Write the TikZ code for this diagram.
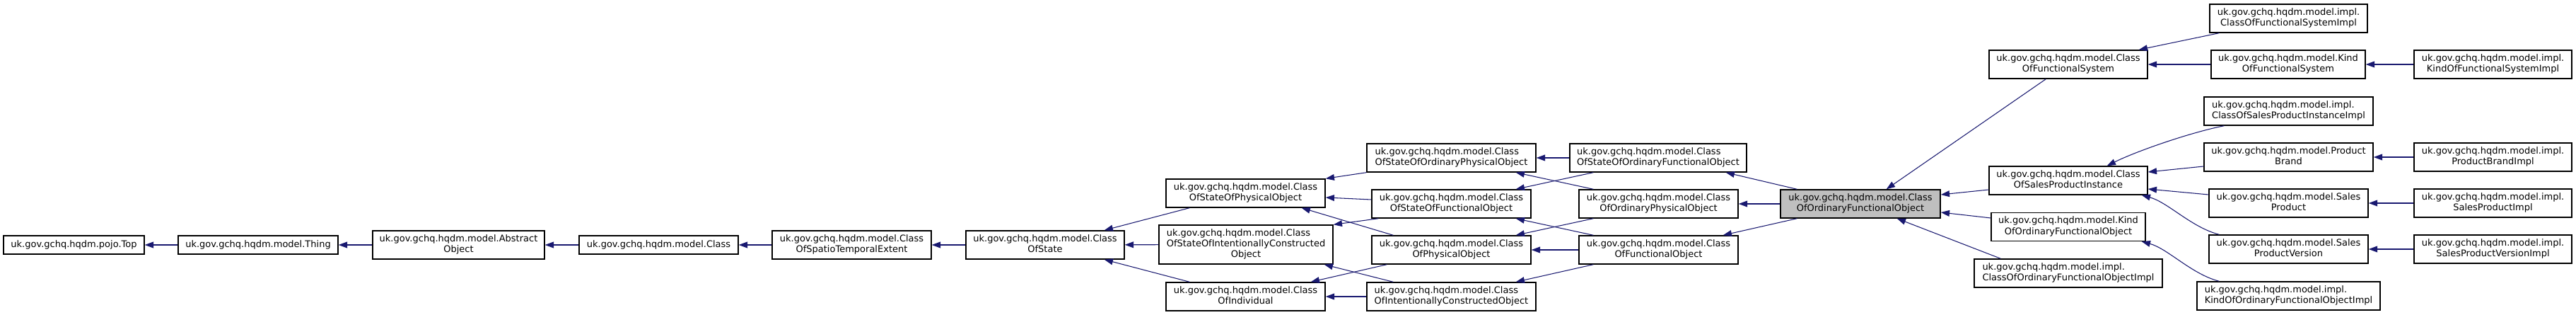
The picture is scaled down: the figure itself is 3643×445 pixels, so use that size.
\documentclass[tikz,border=0pt]{standalone}
\usepackage{fontspec}
\setmainfont{DejaVu Sans}
\usetikzlibrary{arrows.meta, calc}
\definecolor{midnight}{HTML}{191970}
\newcommand{\clslabel}[2]{\begin{tabular}{@{}l@{}}#1\\\multicolumn{1}{@{}c@{}}{#2}\end{tabular}}
\newcommand{\clslabelthree}[3]{\begin{tabular}{@{}l@{}}#1\\#2\\\multicolumn{1}{@{}c@{}}{#3}\end{tabular}}

\begin{document}
\begin{tikzpicture}[x=0.02cm, y=-0.02cm,
    cls/.style={draw=black, line width=0.8pt, fill=white, inner sep=0pt, minimum height=0.8cm, font=\fontsize{7.4}{8.6}\selectfont},
    wd/.style={minimum width=#1*0.02cm},
    oneline/.style={minimum height=0.52cm},
    threeline/.style={minimum height=1.1cm},
    focus/.style={fill=black!25},
    inherit/.style={draw=midnight, line width=0.6pt, -{Triangle[length=7pt,width=5pt]}}]
    \useasboundingbox (0,0) rectangle (3643,445);

    % base chain
    \node[cls, oneline, wd=199] (top) at (104.5,346) {uk.gov.gchq.hqdm.pojo.Top};
    \node[cls, oneline, wd=226] (thing) at (365,346) {uk.gov.gchq.hqdm.model.Thing};
    \node[cls, wd=243] (abstractobj) at (648.5,346) {\clslabel{uk.gov.gchq.hqdm.model.Abstract}{Object}};
    \node[cls, oneline, wd=225] (cls) at (931.5,346) {uk.gov.gchq.hqdm.model.Class};
    \node[cls, wd=225] (cospte) at (1204.5,346) {\clslabel{uk.gov.gchq.hqdm.model.Class}{OfSpatioTemporalExtent}};
    \node[cls, wd=224] (costate) at (1478,346) {\clslabel{uk.gov.gchq.hqdm.model.Class}{OfState}};

    % middle layers
    \node[cls, wd=225] (cosopo) at (1761.5,273) {\clslabel{uk.gov.gchq.hqdm.model.Class}{OfStateOfPhysicalObject}};
    \node[cls, threeline, wd=246] (cosoico) at (1762,345.5) {\clslabelthree{uk.gov.gchq.hqdm.model.Class}{OfStateOfIntentionallyConstructed}{Object}};
    \node[cls, wd=225] (coind) at (1761.5,419) {\clslabel{uk.gov.gchq.hqdm.model.Class}{OfIndividual}};
    \node[cls, wd=239] (cosoopo) at (2052.5,223) {\clslabel{uk.gov.gchq.hqdm.model.Class}{OfStateOfOrdinaryPhysicalObject}};
    \node[cls, wd=225] (cosofo) at (2052.5,288) {\clslabel{uk.gov.gchq.hqdm.model.Class}{OfStateOfFunctionalObject}};
    \node[cls, wd=225] (copo) at (2052.5,353) {\clslabel{uk.gov.gchq.hqdm.model.Class}{OfPhysicalObject}};
    \node[cls, wd=239] (coico) at (2052.5,419) {\clslabel{uk.gov.gchq.hqdm.model.Class}{OfIntentionallyConstructedObject}};
    \node[cls, wd=250] (cosoofo) at (2345,223) {\clslabel{uk.gov.gchq.hqdm.model.Class}{OfStateOfOrdinaryFunctionalObject}};
    \node[cls, wd=225] (coopo) at (2345.5,288) {\clslabel{uk.gov.gchq.hqdm.model.Class}{OfOrdinaryPhysicalObject}};
    \node[cls, wd=225] (cofo) at (2345.5,353) {\clslabel{uk.gov.gchq.hqdm.model.Class}{OfFunctionalObject}};
    \node[cls, focus, wd=226] (coofo) at (2631,288) {\clslabel{uk.gov.gchq.hqdm.model.Class}{OfOrdinaryFunctionalObject}};

    % subclasses
    \node[cls, wd=224] (cofs) at (2925,91) {\clslabel{uk.gov.gchq.hqdm.model.Class}{OfFunctionalSystem}};
    \node[cls, wd=224] (cospi) at (2925,255) {\clslabel{uk.gov.gchq.hqdm.model.Class}{OfSalesProductInstance}};
    \node[cls, wd=218] (koofo) at (2925,320.5) {\clslabel{uk.gov.gchq.hqdm.model.Kind}{OfOrdinaryFunctionalObject}};
    \node[cls, wd=266] (coofoimpl) at (2925,386) {\clslabel{uk.gov.gchq.hqdm.model.impl.}{ClassOfOrdinaryFunctionalObjectImpl}};
    \node[cls, wd=223] (cofsimpl) at (3236.5,26) {\clslabel{uk.gov.gchq.hqdm.model.impl.}{ClassOfFunctionalSystemImpl}};
    \node[cls, wd=218] (kofs) at (3236,91) {\clslabel{uk.gov.gchq.hqdm.model.Kind}{OfFunctionalSystem}};
    \node[cls, wd=223] (kofsimpl) at (3525.5,91) {\clslabel{uk.gov.gchq.hqdm.model.impl.}{KindOfFunctionalSystemImpl}};
    \node[cls, wd=239] (cospiimpl) at (3236.5,157) {\clslabel{uk.gov.gchq.hqdm.model.impl.}{ClassOfSalesProductInstanceImpl}};
    \node[cls, wd=239] (pbrand) at (3236.5,222) {\clslabel{uk.gov.gchq.hqdm.model.Product}{Brand}};
    \node[cls, wd=223] (pbrandimpl) at (3525.5,222) {\clslabel{uk.gov.gchq.hqdm.model.impl.}{ProductBrandImpl}};
    \node[cls, wd=225] (sprod) at (3236.5,287) {\clslabel{uk.gov.gchq.hqdm.model.Sales}{Product}};
    \node[cls, wd=223] (sprodimpl) at (3525.5,287) {\clslabel{uk.gov.gchq.hqdm.model.impl.}{SalesProductImpl}};
    \node[cls, wd=225] (spver) at (3236.5,352) {\clslabel{uk.gov.gchq.hqdm.model.Sales}{ProductVersion}};
    \node[cls, wd=223] (spverimpl) at (3525.5,352) {\clslabel{uk.gov.gchq.hqdm.model.impl.}{SalesProductVersionImpl}};
    \node[cls, wd=259] (koofoimpl) at (3236.5,418) {\clslabel{uk.gov.gchq.hqdm.model.impl.}{KindOfOrdinaryFunctionalObjectImpl}};

    % inheritance arrows, child to parent
    \draw[inherit] (thing) -- (top);
    \draw[inherit] (abstractobj) -- (thing);
    \draw[inherit] (cls) -- (abstractobj);
    \draw[inherit] (cospte) -- (cls);
    \draw[inherit] (costate) -- (cospte);
    \draw[inherit] ($(cosopo.south west)+(34,0)$) -- ($(costate.north east)+(-29,0)$);
    \draw[inherit] (cosoico) -- (costate);
    \draw[inherit] ($(coind.north west)+(34,0)$) -- ($(costate.south east)+(-29,0)$);
    \draw[inherit] (cosoopo.south west) -- (cosopo.north east);
    \draw[inherit] ($(cosofo.west)+(0,-6)$) -- ($(cosopo.east)+(0,6)$);
    \draw[inherit] ($(cosofo.south west)+(10,0)$) -- (cosoico.north east);
    \draw[inherit] ($(copo.north west)+(31,0)$) -- ($(cosopo.south east)+(-34,0)$);
    \draw[inherit] ($(copo.south west)+(22,0)$) -- ($(coind.north east)+(-21,0)$);
    \draw[inherit] ($(coico.north west)+(38,0)$) -- ($(cosoico.south east)+(-13,0)$);
    \draw[inherit] (coico) -- (coind);
    \draw[inherit] (cosoofo) -- (cosoopo);
    \draw[inherit] ($(cosoofo.south west)+(34,0)$) -- ($(cosofo.north east)+(-22,0)$);
    \draw[inherit] ($(coopo.north west)+(21,0)$) -- ($(cosoopo.south east)+(-29,0)$);
    \draw[inherit] ($(coopo.south west)+(21,0)$) -- ($(copo.north east)+(-22,0)$);
    \draw[inherit] ($(cofo.north west)+(21,0)$) -- ($(cosofo.south east)+(-22,0)$);
    \draw[inherit] (cofo) -- (copo);
    \draw[inherit] ($(cofo.south west)+(21,0)$) -- ($(coico.north east)+(-29,0)$);
    \draw[inherit] ($(coofo.north west)+(24,0)$) -- ($(cosoofo.south east)+(-30,0)$);
    \draw[inherit] (coofo) -- (coopo);
    \draw[inherit] ($(coofo.south west)+(24,0)$) -- ($(cofo.north east)+(-22,0)$);
    \draw[inherit] ($(cofs.south west)+(81,0)$) -- ($(coofo.north east)+(-77,0)$);
    \draw[inherit] ($(cospi.west)+(0,13)$) -- ($(coofo.east)+(0,-13)$);
    \draw[inherit] ($(koofo.west)+(0,-12.5)$) -- ($(coofo.east)+(0,12)$);
    \draw[inherit] ($(coofoimpl.north west)+(38,0)$) -- ($(coofo.south east)+(-62,0)$);
    \draw[inherit] ($(cofsimpl.south west)+(14,0)$) -- ($(cofs.north east)+(-13,0)$);
    \draw[inherit] (kofs) -- (cofs);
    \draw[inherit] (kofsimpl) -- (kofs);
    \draw[inherit] ($(cospiimpl.south west)+(29,0)$) .. controls +(-50,10) and +(40,-20) .. ($(cospi.north east)+(-58,0)$);
    \draw[inherit] ($(pbrand.west)+(0,13)$) -- ($(cospi.east)+(0,-12)$);
    \draw[inherit] (pbrandimpl) -- (pbrand);
    \draw[inherit] ($(sprod.west)+(0,-12)$) -- ($(cospi.east)+(0,12)$);
    \draw[inherit] (sprodimpl) -- (sprod);
    \draw[inherit] ($(spver.north west)+(15,0)$) .. controls +(-39,-10) and +(37,10) .. ($(cospi.south east)+(-9,0)$);
    \draw[inherit] (spverimpl) -- (spver);
    \draw[inherit] ($(koofoimpl.north west)+(32,0)$) .. controls +(-39,-10) and +(37,10) .. ($(koofo.south east)+(-6,0)$);
\end{tikzpicture}
\end{document}
